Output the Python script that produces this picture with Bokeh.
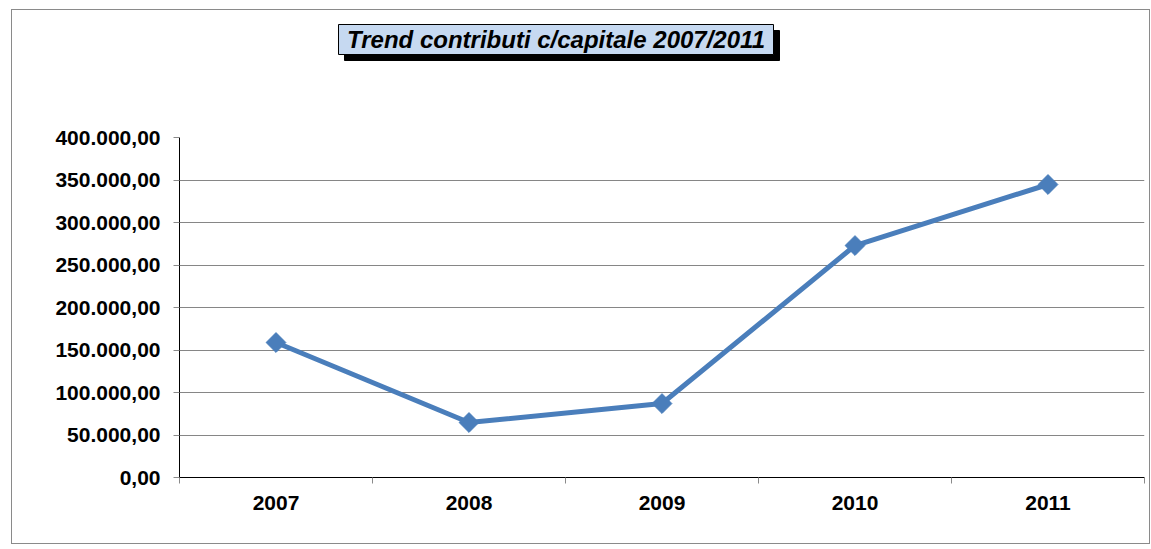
import math
from bokeh.plotting import figure
from bokeh.models import FixedTicker, ColumnDataSource
from bokeh.core.properties import value
from bokeh.embed import file_html
from bokeh.resources import INLINE

years = ["2007", "2008", "2009", "2010", "2011"]
values = [158800, 64700, 87000, 272900, 344700]
y_ticks = [0, 50000, 100000, 150000, 200000, 250000, 300000, 350000, 400000]
title_text = "Trend contributi c/capitale 2007/2011"

def it_fmt(v):
    s = f"{v:,.2f}"
    return s.replace(",", "X").replace(".", ",").replace("X", ".")

# ---- layout constants (pixels) ----
PLOT_H = 340          # height of the value area (0 .. 400000)
TOP_SPACE = 127       # space above the value area (title zone)
PLOT_W = 965
y_max = y_ticks[-1]
per_px_y = y_max / PLOT_H
per_px_x = 1.0 / 193.0
y_end = y_max + TOP_SPACE * per_px_y

xs = list(range(len(years)))
src = ColumnDataSource(data=dict(x=xs, y=values))

p = figure(output_backend="svg", toolbar_location=None,
           frame_width=PLOT_W, frame_height=PLOT_H + TOP_SPACE,
           x_range=(-0.5, len(years) - 0.5), y_range=(0, y_end),
           min_border_left=167, min_border_right=5,
           min_border_top=0, min_border_bottom=66,
           background_fill_color="white", border_fill_color="white")
p.margin = (9, 0, 0, 11)
p.styles = {"border": "1px solid #8a8a8a"}
p.outline_line_color = None

p.line("x", "y", source=src, line_color="#4a7ebb", line_width=5)
p.scatter("x", "y", source=src, marker="square", angle=math.pi / 4, size=14,
          fill_color="#4a7ebb", line_color="#4a7ebb")

# y axis
p.yaxis.bounds = (0, y_max)
p.yaxis.ticker = FixedTicker(ticks=y_ticks, minor_ticks=[])
p.yaxis.major_label_overrides = {v: it_fmt(v) for v in y_ticks}
p.yaxis.axis_line_color = "black"
p.yaxis.major_tick_line_color = "#8a8a8a"
p.yaxis.major_tick_out = 6
p.yaxis.major_tick_in = 0
p.yaxis.minor_tick_line_color = None
p.yaxis.major_label_text_font = "Liberation Sans"
p.yaxis.major_label_text_font_style = "bold"
p.yaxis.major_label_text_font_size = "21px"
p.yaxis.major_label_text_color = "black"
p.yaxis.major_label_standoff = 13

# x axis
p.xaxis.ticker = FixedTicker(ticks=xs, minor_ticks=[i - 0.5 for i in range(len(years) + 1)])
p.xaxis.major_label_overrides = {i: y for i, y in enumerate(years)}
p.xaxis.axis_line_color = "black"
p.xaxis.major_tick_line_color = None
p.xaxis.minor_tick_line_color = "#8a8a8a"
p.xaxis.minor_tick_out = 6
p.xaxis.minor_tick_in = 0
p.xaxis.major_label_text_font = "Liberation Sans"
p.xaxis.major_label_text_font_style = "bold"
p.xaxis.major_label_text_font_size = "21px"
p.xaxis.major_label_text_color = "black"
p.xaxis.major_label_standoff = 12

p.xgrid.grid_line_color = None
p.ygrid.ticker = FixedTicker(ticks=y_ticks[1:-1])
p.ygrid.grid_line_color = "#868686"
p.ygrid.grid_line_width = 1

# ---- title box with drop shadow (page pixel geometry -> data space) ----
FRAME_LEFT_PX, FRAME_TOP_PX = 179, 137   # page px of (-0.5, y_max)
def dx(px):
    return -0.5 + (px - FRAME_LEFT_PX) * per_px_x
def dy(py):
    return y_max + (FRAME_TOP_PX - py) * per_px_y

box_l, box_r, box_t, box_b = 338, 773, 24, 54
sh = 6
p.quad(left=[dx(box_l + sh)], right=[dx(box_r + sh)], top=[dy(box_t + sh)], bottom=[dy(box_b + sh)],
       fill_color="black", line_color="black")
p.quad(left=[dx(box_l)], right=[dx(box_r)], top=[dy(box_t)], bottom=[dy(box_b)],
       fill_color="#c6d9f1", line_color="black", line_width=1)
p.text(x=[dx((box_l + box_r) / 2)], y=[dy((box_t + box_b) / 2)], text=[title_text],
       text_font=value("Liberation Sans"), text_font_style="bold italic",
       text_font_size="24px", text_color="black",
       text_align="center", text_baseline="middle")

open("out.html", "w").write(file_html(p, INLINE))
